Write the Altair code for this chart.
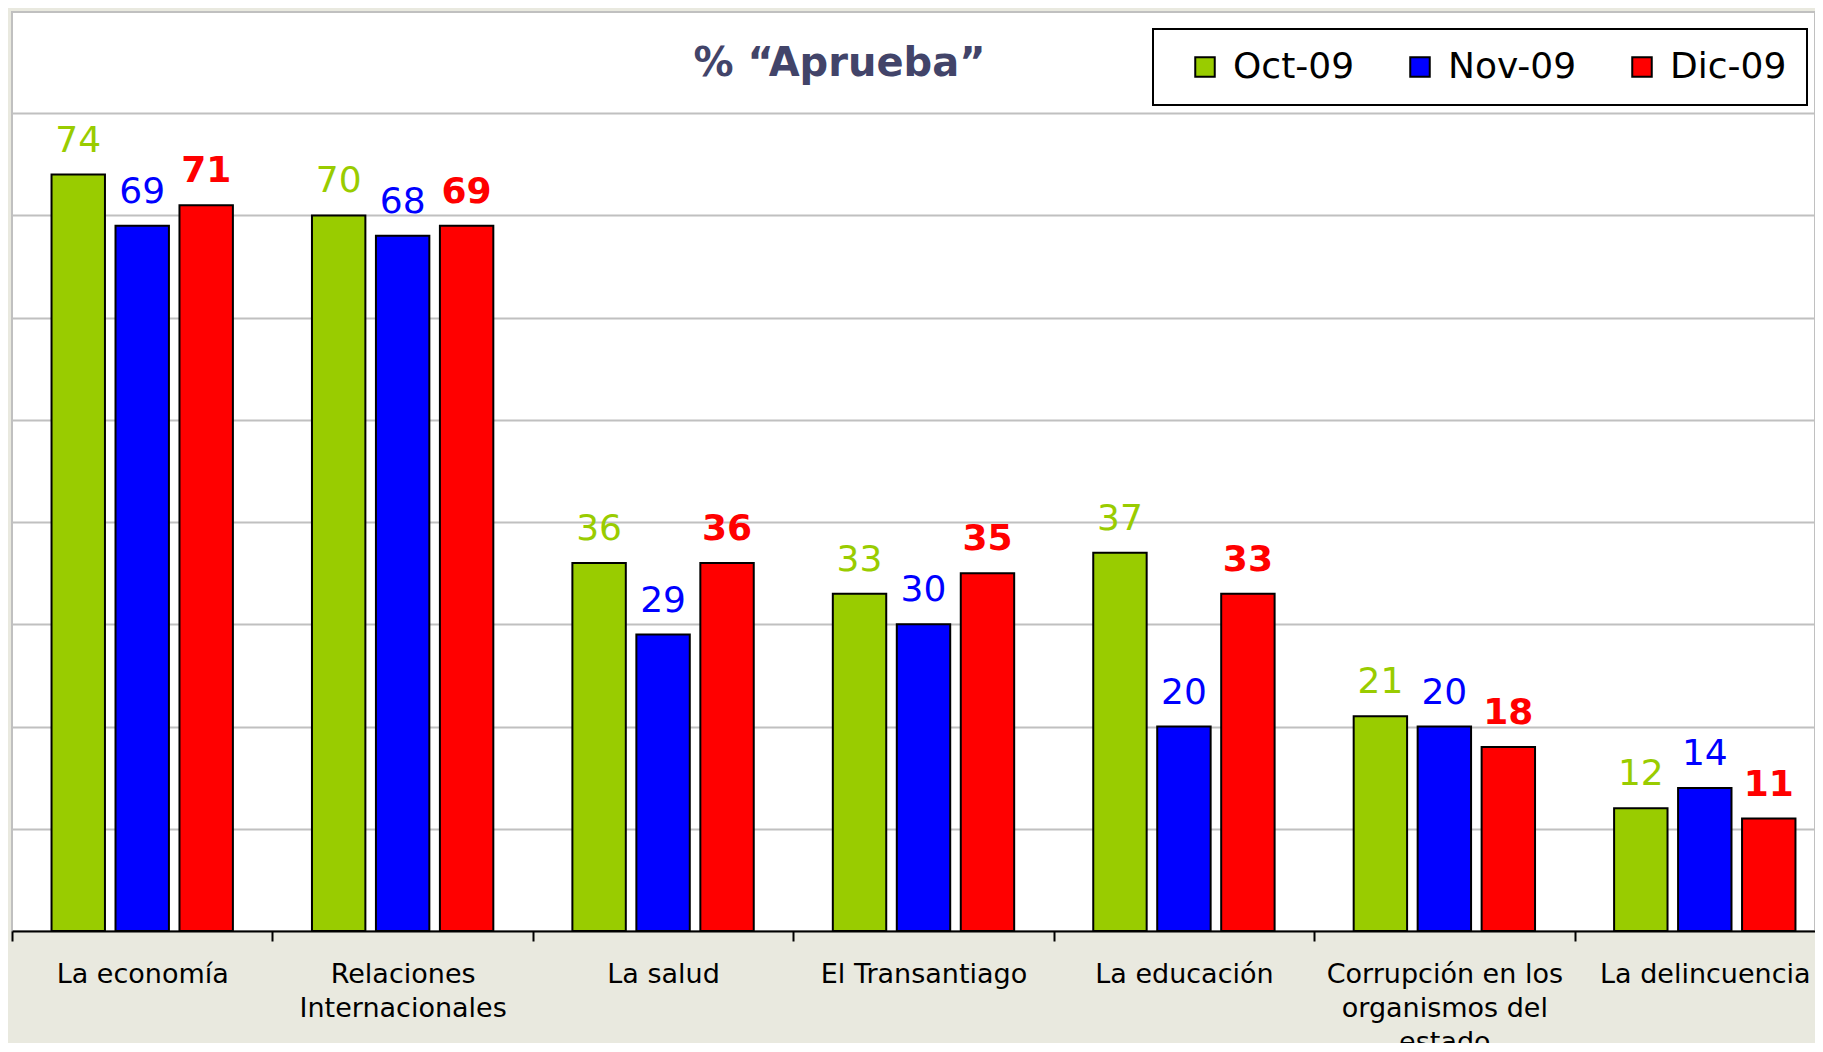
import altair as alt
import pandas as pd

categories = [
    "La economía",
    "Relaciones\nInternacionales",
    "La salud",
    "El Transantiago",
    "La educación",
    "Corrupción en los\norganismos del\nestado",
    "La delincuencia",
]
series = ["Oct-09", "Nov-09", "Dic-09"]
oct_values = [74, 70, 36, 33, 37, 21, 12]
nov_values = [69, 68, 29, 30, 20, 20, 14]
dic_values = [71, 69, 36, 35, 33, 18, 11]
colors = ["#99cc00", "#0000ff", "#ff0000"]
grid_values = [10, 20, 30, 40, 50, 60, 70, 80]

rows = []
for s, vals in zip(series, [oct_values, nov_values, dic_values]):
    for c, v in zip(categories, vals):
        rows.append({"cat": c, "serie": s, "valor": v})
df = pd.DataFrame(rows)

FONT = "DejaVu Sans"
W = 1803
XR = 1823
STEP = XR / len(categories)

x_enc = alt.X(
    "cat:N",
    sort=categories,
    title=None,
    scale=alt.Scale(paddingInner=0.3036, paddingOuter=0.1518, range=[0, XR]),
    axis=alt.Axis(
        labelExpr="split(datum.value, '\\n')",
        labelAngle=0,
        labelFont=FONT,
        labelFontSize=27,
        labelColor="black",
        labelLineHeight=34,
        labelLimit=0,
        labelPadding=20,
        labelBaseline="top",
        labelOffset=STEP / 2,
        domainColor="black",
        domainWidth=2,
        tickColor="black",
        tickWidth=2,
        tickSize=10,
        tickOffset=-STEP / 2,
        grid=False,
    ),
)
xo_enc = alt.XOffset("serie:N", sort=series, scale=alt.Scale(paddingInner=0.165))
y_scale = alt.Scale(domain=[0, 89.9], nice=False, zero=True)
color_scale = alt.Scale(domain=series, range=colors)

bars = alt.Chart(df).mark_bar(stroke="black", strokeWidth=2).encode(
    x=x_enc,
    xOffset=xo_enc,
    y=alt.Y(
        "valor:Q",
        scale=y_scale,
        title=None,
        axis=alt.Axis(
            values=grid_values,
            labels=False,
            ticks=False,
            domain=False,
            grid=True,
            gridColor="#c0c0c0",
            gridWidth=2,
        ),
    ),
    color=alt.Color(
        "serie:N",
        scale=color_scale,
        sort=series,
        legend=alt.Legend(
            title=" ",
            titleOrient="left",
            titleFontSize=8,
            titlePadding=14,
            orient="none",
            legendX=1141,
            legendY=17,
            direction="horizontal",
            columns=3,
            columnPadding=47,
            padding=20,
            strokeColor="black",
            fillColor="white",
            symbolType="square",
            symbolSize=380,
            symbolStrokeColor="black",
            symbolStrokeWidth=2,
            labelFont=FONT,
            labelFontSize=36,
            labelColor="black",
            labelOffset=10,
            labelLimit=0,
        ),
    ),
)

text_normal = alt.Chart(df).transform_filter(
    alt.datum.serie != "Dic-09"
).mark_text(baseline="alphabetic", dy=-23, font=FONT, fontSize=36).encode(
    x=alt.X("cat:N", sort=categories),
    xOffset=xo_enc,
    y=alt.Y("valor:Q", scale=y_scale),
    text="valor:Q",
    color=alt.Color("serie:N", scale=color_scale, legend=None),
)

text_bold = alt.Chart(df).transform_filter(
    alt.datum.serie == "Dic-09"
).mark_text(baseline="alphabetic", dy=-23, font=FONT, fontSize=36, fontWeight="bold").encode(
    x=alt.X("cat:N", sort=categories),
    xOffset=xo_enc,
    y=alt.Y("valor:Q", scale=y_scale),
    text="valor:Q",
    color=alt.Color("serie:N", scale=color_scale, legend=None),
)

chart = alt.layer(bars, text_normal, text_bold).properties(
    width=W,
    height=919,
    title=alt.TitleParams(
        text="% “Aprueba”",
        font=FONT,
        fontSize=40,
        fontWeight="bold",
        color="#424469",
        anchor="middle",
        baseline="alphabetic",
        offset=0,
        dx=-74,
        dy=104,
    ),
    autosize=alt.AutoSizeParams(type="none"),
    padding={"left": 4, "top": 4, "right": 0, "bottom": 112},
    background="#e9e9df",
).configure_view(
    fill="white",
    stroke="#c0c0c0",
    strokeWidth=2,
).configure_legend(
    strokeWidth=2,
)

chart.save("out.html", embed_options={"renderer": "svg", "actions": False})
